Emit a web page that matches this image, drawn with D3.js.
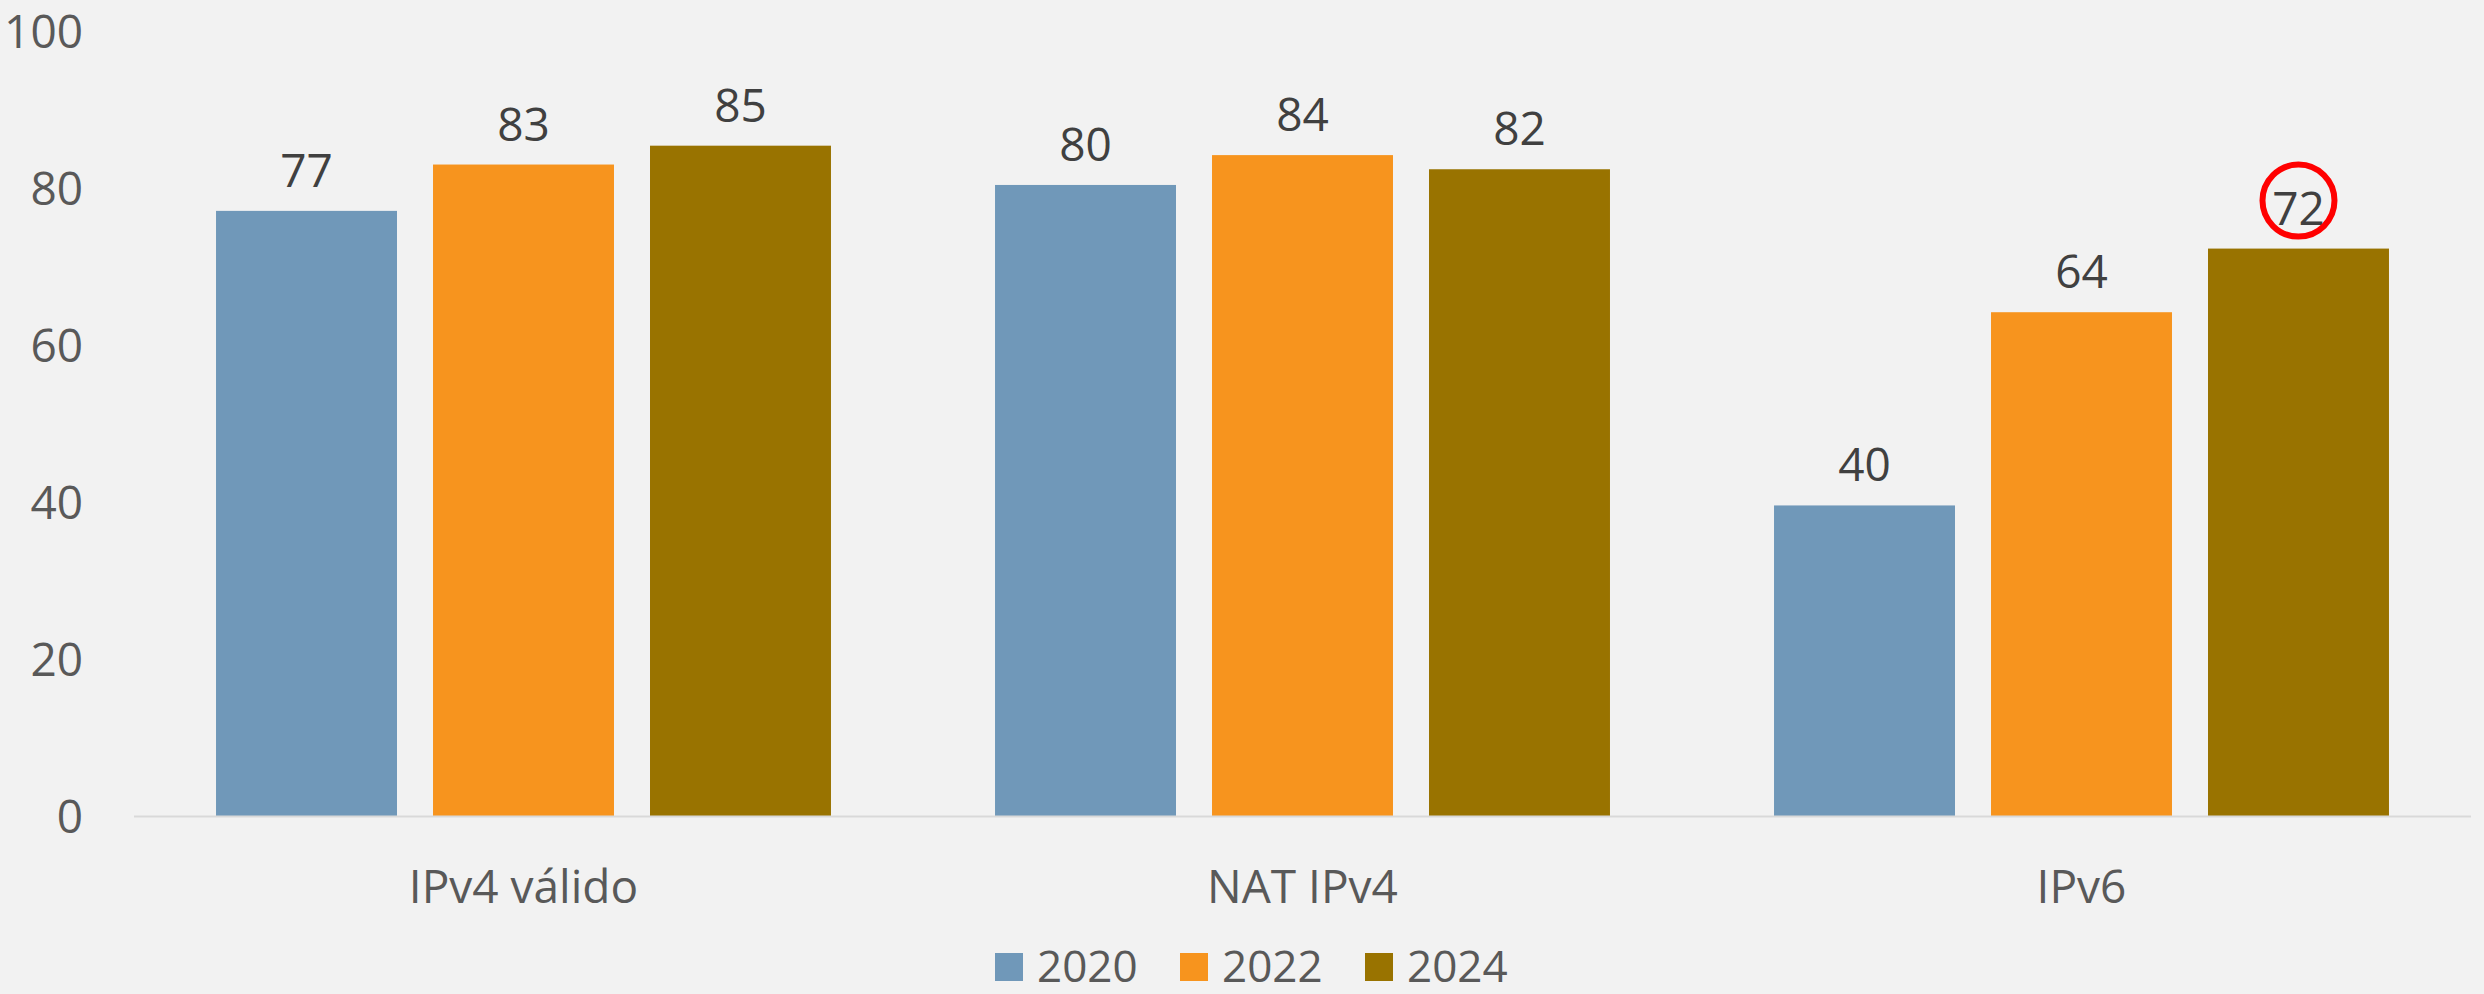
<!DOCTYPE html>
<html lang="es">
<head>
<meta charset="UTF-8">
<title>IPv4 / NAT / IPv6</title>
<script src="https://d3js.org/d3.v7.min.js"></script>
<style>
    body { margin: 0; background: #f2f2f2; }
    svg text { font-family: "Open Sans", "Noto Sans", sans-serif; }
</style>
</head>
<body>
<script>
    // data
    const categories = ["IPv4 válido", "NAT IPv4", "IPv6"];
    const years = ["2020", "2022", "2024"];
    const values2020 = [77.1, 80.4, 39.6];
    const values2022 = [83.0, 84.2, 64.2];
    const values2024 = [85.4, 82.4, 72.3];
    const yTicks = [0, 20, 40, 60, 80, 100];
    const colors = ["#7098b9", "#f7941e", "#997300"];

    const series = [values2020, values2022, values2024];

    const width = 2484, height = 994;
    const plotLeft = 134, plotRight = 2471, plotTop = 31, plotBottom = 816.5;

    const svg = d3.select("body").append("svg")
        .attr("width", width)
        .attr("height", height);

    svg.append("rect")
        .attr("width", width).attr("height", height)
        .attr("fill", "#f2f2f2");

    const x0 = d3.scaleBand()
        .domain(categories)
        .range([plotLeft, plotRight]);

    const x1 = d3.scaleBand()
        .domain(years)
        .range([0, x0.bandwidth()])
        .paddingInner(0.166)
        .paddingOuter(0.378);

    const y = d3.scaleLinear()
        .domain([0, 100])
        .range([plotBottom, plotTop]);

    // y axis labels only
    svg.append("g")
        .selectAll("text")
        .data(yTicks)
        .join("text")
        .attr("x", 83)
        .attr("y", d => y(d))
        .attr("dy", "0.36em")
        .attr("text-anchor", "end")
        .attr("font-size", 46)
        .attr("fill", "#595959")
        .text(d => d);

    // bars
    const groups = svg.append("g")
        .selectAll("g")
        .data(categories)
        .join("g")
        .attr("transform", d => `translate(${x0(d)},0)`);

    groups.selectAll("rect")
        .data((c, i) => years.map((yr, k) => ({year: yr, k: k, value: series[k][i]})))
        .join("rect")
        .attr("x", d => x1(d.year))
        .attr("y", d => y(d.value))
        .attr("width", x1.bandwidth())
        .attr("height", d => y(0) - y(d.value))
        .attr("fill", d => colors[d.k]);

    groups.selectAll("text.val")
        .data((c, i) => years.map((yr, k) => ({year: yr, k: k, value: series[k][i]})))
        .join("text")
        .attr("class", "val")
        .attr("x", d => x1(d.year) + x1.bandwidth() / 2)
        .attr("y", d => y(d.value) - 24)
        .attr("text-anchor", "middle")
        .attr("font-size", 46)
        .attr("fill", "#404040")
        .text(d => d3.format(".0f")(d.value));

    // baseline
    svg.append("line")
        .attr("x1", plotLeft).attr("x2", plotRight)
        .attr("y1", y(0)).attr("y2", y(0))
        .attr("stroke", "#d9d9d9")
        .attr("stroke-width", 2);

    // category labels
    svg.append("g")
        .selectAll("text")
        .data(categories)
        .join("text")
        .attr("x", d => x0(d) + x0.bandwidth() / 2)
        .attr("y", 903)
        .attr("text-anchor", "middle")
        .attr("font-size", 46)
        .attr("fill", "#595959")
        .text(d => d);

    // red circle around the IPv6 2024 label
    const hx = x0("IPv6") + x1("2024") + x1.bandwidth() / 2;
    svg.append("circle")
        .attr("cx", hx)
        .attr("cy", y(values2024[2]) - 48)
        .attr("r", 36)
        .attr("fill", "none")
        .attr("stroke", "#ff0000")
        .attr("stroke-width", 6);

    // legend
    const legendX = [995, 1180, 1365];
    const legend = svg.append("g")
        .selectAll("g")
        .data(years)
        .join("g")
        .attr("transform", (d, i) => `translate(${legendX[i]},953)`);

    legend.append("rect")
        .attr("width", 28).attr("height", 28)
        .attr("fill", (d, i) => colors[i]);

    legend.append("text")
        .attr("x", 42)
        .attr("y", 29)
        .attr("font-size", 44)
        .attr("fill", "#595959")
        .text(d => d);
</script>
</body>
</html>
